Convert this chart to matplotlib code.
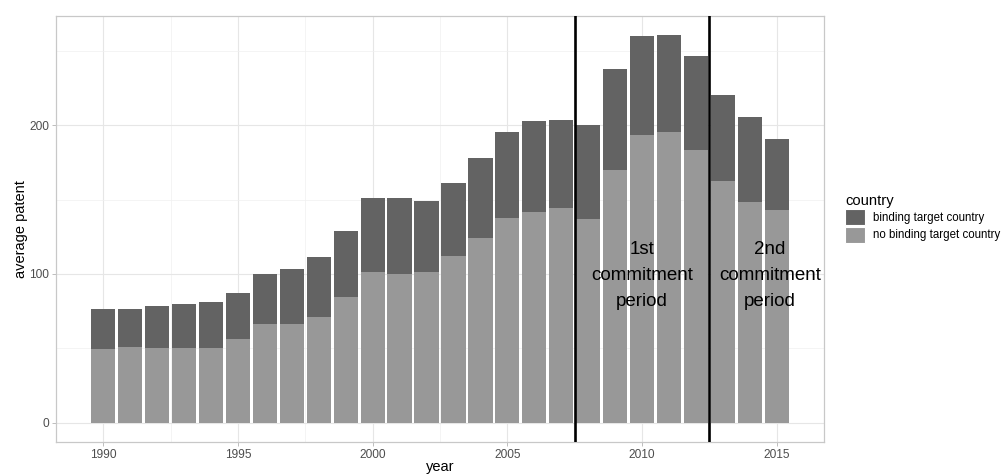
import matplotlib
matplotlib.use("Agg")
import matplotlib.pyplot as plt
import matplotlib.patches as mpatches
import numpy as np

plt.rcParams["font.family"] = ["Liberation Sans", "DejaVu Sans"]

# data
years = list(range(1990, 2016))
no_binding = [49.2, 51.2, 50.3, 50.3, 49.9, 56.4, 66.0, 66.2, 71.1, 84.8,
              101.1, 100.0, 101.1, 112.1, 124.2, 137.6, 141.6, 144.5, 137.1, 170.2,
              193.1, 195.1, 183.2, 162.6, 148.5, 142.7]
total = [76.5, 76.7, 78.1, 79.9, 81.4, 87.5, 100.0, 103.6, 111.6, 128.6,
         150.8, 151.2, 149.0, 161.3, 178.1, 195.3, 202.7, 203.6, 200.0, 237.8,
         260.0, 260.4, 246.8, 220.6, 205.6, 190.8]
binding = [t - n for t, n in zip(total, no_binding)]

period_breaks = [2007.5, 2012.5]
period_labels = ["1st\ncommitment\nperiod", "2nd\ncommitment\nperiod"]
period_label_x = [2010.0, 2014.75]
period_label_y = 99

legend_labels = ["binding target country", "no binding target country"]
COL_BIND = "#636363"
COL_NOBIND = "#989898"

W, H = 1005, 475
fig = plt.figure(figsize=(W / 100, H / 100), dpi=100)
fig.patch.set_facecolor("white")
ax = fig.add_axes([56 / W, (H - 442) / H, (824 - 56) / W, (442 - 16) / H])

ax.bar(years, no_binding, width=0.9, color=COL_NOBIND, zorder=2)
ax.bar(years, binding, width=0.9, bottom=no_binding, color=COL_BIND, zorder=2)

for xb in period_breaks:
    ax.axvline(xb, color="black", lw=1.9, zorder=3)
for x, lab in zip(period_label_x, period_labels):
    ax.text(x, period_label_y, lab, ha="center", va="center",
            fontsize=13.5, color="black", linespacing=1.72, zorder=4)

ax.set_xticks([1990, 1995, 2000, 2005, 2010, 2015])
ax.set_xticks(np.arange(1992.5, 2016, 5), minor=True)
ax.set_yticks([0, 100, 200])
ax.set_yticks([50, 150, 250], minor=True)
ax.set_xlim(1988.25, 2016.75)
ax.set_ylim(-13, 273.4)

ax.grid(which="major", color="#E6E6E6", lw=0.8, zorder=0)
ax.grid(which="minor", color="#F0F0F0", lw=0.5, zorder=0)
ax.set_axisbelow(True)
for s in ax.spines.values():
    s.set_color("#C8C8C8")
    s.set_linewidth(0.9)
ax.tick_params(which="major", length=3, width=0.6, color="#B3B3B3",
               labelcolor="#4D4D4D", labelsize=8.6, pad=2)
ax.tick_params(which="minor", length=0)

ax.set_xlabel("year", fontsize=10.5, labelpad=-0.5)
ax.set_ylabel("average patent", fontsize=10.5, labelpad=1)

handles = [mpatches.Patch(facecolor=COL_BIND, edgecolor="white", lw=0.8),
           mpatches.Patch(facecolor=COL_NOBIND, edgecolor="white", lw=0.8)]
leg = fig.legend(handles, legend_labels, title="country",
                 loc="upper left", bbox_to_anchor=(845 / W, 1 - 194 / H),
                 frameon=False, fontsize=8.3, title_fontsize=10.6,
                 handlelength=1.75, handleheight=1.8, handletextpad=0.7,
                 labelspacing=0.1, borderaxespad=0, borderpad=0)
leg._legend_box.align = "left"

fig.savefig("out.png", dpi=100)
